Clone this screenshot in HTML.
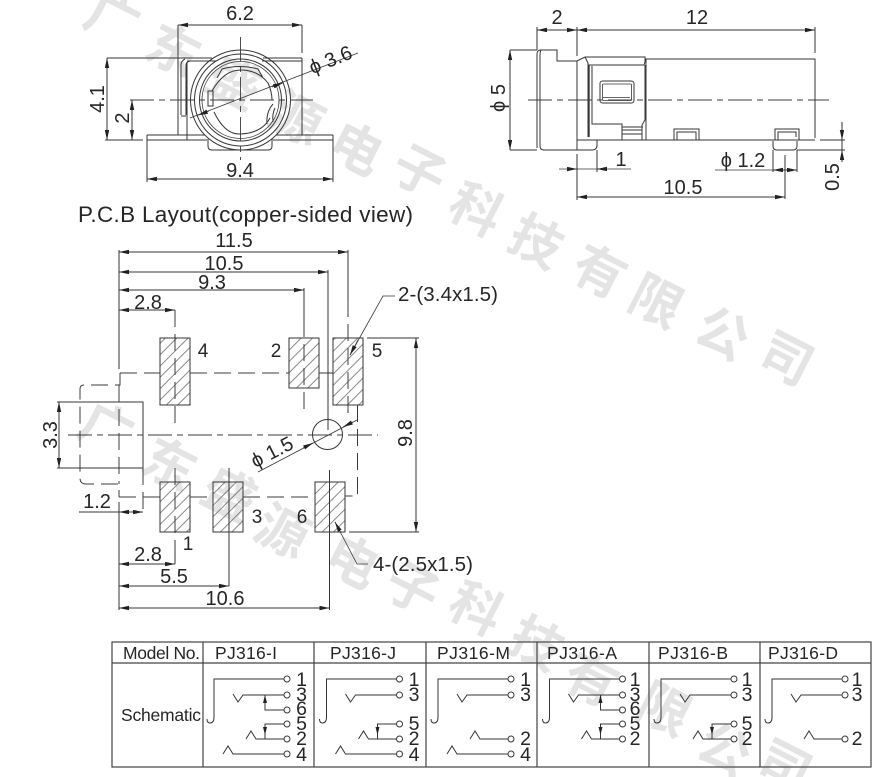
<!DOCTYPE html>
<html><head><meta charset="utf-8"><title>PJ316</title>
<style>
html,body{margin:0;padding:0;background:#fff}
svg{display:block}
text{font-family:"Liberation Sans","Noto Sans CJK SC",sans-serif;fill:#262626}
.w text{font-family:"Liberation Sans","Noto Sans CJK SC",sans-serif;font-size:52px;font-weight:700;fill:#e4e4e4;text-anchor:middle}
.d{font-size:20px;text-anchor:middle}
.n{font-size:19.500px;text-anchor:middle}
.p{font-size:19px;text-anchor:middle}
.h{font-size:17.500px}
.l{fill:none;stroke:#363636;stroke-width:1}
.t{fill:none;stroke:#363636;stroke-width:.8}
.m{fill:none;stroke:#363636;stroke-width:1.4}
.c{fill:none;stroke:#3c3c3c;stroke-width:.9;stroke-dasharray:24 5 6 5}
.dd{fill:none;stroke:#3c3c3c;stroke-width:1;stroke-dasharray:17 7}
.a{marker-start:url(#ar);marker-end:url(#ar)}
.e{marker-end:url(#ar)}
.pad{fill:url(#hatch);stroke:#363636;stroke-width:1}
.tb{fill:none;stroke:#444;stroke-width:1.2}
</style></head>
<body>
<svg width="888" height="777" viewBox="0 0 888 777" xmlns="http://www.w3.org/2000/svg">
<defs>
<marker id="ar" markerUnits="userSpaceOnUse" orient="auto-start-reverse" refX="10" refY="2.2" markerWidth="10" markerHeight="5"><path d="M0 0L10 2.2L0 4.4z" fill="#222"/></marker>
<pattern id="hatch" patternUnits="userSpaceOnUse" width="8" height="8" patternTransform="rotate(-45)"><line x1="0" y1="4" x2="8" y2="4" stroke="#555" stroke-width=".7"/></pattern>
<g id="s1"><path class="l" d="M73 38H3V76Q3 82 -1 82Q-4 82 -4 78"/><circle cx="76" cy="38" r="3" class="l"/></g>
<g id="s3"><path class="l" d="M22 53L27 61L32 54H73"/><circle cx="76" cy="54" r="3" class="l"/></g>
<g id="s6"><path class="l" d="M54 54V69H73"/><path d="M54 54L52 62H56z" fill="#222"/><circle cx="76" cy="69" r="3" class="l"/></g>
<g id="s5"><path class="l" d="M54 98V83H73"/><path d="M54 94L52 86H56z" fill="#222"/><circle cx="76" cy="83" r="3" class="l"/></g>
<g id="s2"><path class="l" d="M35 98L40 90L45 98H73"/><circle cx="76" cy="98" r="3" class="l"/></g>
<g id="s4"><path class="l" d="M12 113L17 105L22 113H73"/><circle cx="76" cy="113" r="3" class="l"/></g>
</defs>
<rect width="888" height="777" fill="#fff"/>

<!-- watermark -->
<g class="w">
<text transform="translate(104,35) rotate(27)">广</text>
<text transform="translate(165,67) rotate(27)">东</text>
<text transform="translate(226,99) rotate(27)">盛</text>
<text transform="translate(288,135) rotate(27)">源</text>
<text transform="translate(348,165) rotate(27)">电</text>
<text transform="translate(411,188) rotate(27)">子</text>
<text transform="translate(468,226) rotate(27)">科</text>
<text transform="translate(528,258) rotate(27)">技</text>
<text transform="translate(591,288) rotate(27)">有</text>
<text transform="translate(648,318) rotate(27)">限</text>
<text transform="translate(714,350) rotate(27)">公</text>
<text transform="translate(778,375) rotate(27)">司</text>
<text transform="translate(98,445) rotate(27)">广</text>
<text transform="translate(161,481) rotate(27)">东</text>
<text transform="translate(221,511) rotate(27)">盛</text>
<text transform="translate(274,548) rotate(27)">源</text>
<text transform="translate(344,578) rotate(27)">电</text>
<text transform="translate(404,605) rotate(27)">子</text>
<text transform="translate(468,625) rotate(27)">科</text>
<text transform="translate(528,660) rotate(27)">技</text>
<text transform="translate(583,696) rotate(27)">有</text>
<text transform="translate(656,726) rotate(27)">限</text>
<text transform="translate(716,766) rotate(27)">公</text>
<text transform="translate(776,783) rotate(27)">司</text>
</g>

<!-- front view -->
<g>
<path class="l" d="M178 25V135M302 25V53M302 58V135"/>
<path class="l" d="M107 58H212M263 58H302M187 61H216M262 61H302"/>
<path class="l" d="M181 115V65Q181 61 185 59M186 115V65Q186 62 190 61M181 116H186"/>
<path class="l" d="M187 62V140"/>
<path class="l" d="M147 135H205M276 135H333M147 135V140M333 135V140M105 140H143M147 140H209M271 140H333"/>
<path class="l" d="M208 141V146Q208 150 212 150H268Q272 150 272 146V141"/>
<circle cx="240.5" cy="100" r="50" class="l"/>
<circle cx="240.5" cy="100" r="46" class="l"/>
<circle cx="240.5" cy="100" r="41" class="l"/>
<circle cx="240.5" cy="100" r="38.5" class="t"/>
<path class="l" d="M217 78L222 69Q240 64 258 69L263 78M214 112Q225 135 240.5 134Q262 133 270 118M212 91Q224 70 240.5 70Q258 70 268 83Q272 92 272 100"/>
<path class="l" d="M273 104Q266 112 267 124M275 108Q272 114 273 122"/>
<rect x="208" y="91" width="5" height="15" class="l"/>
<path class="c" d="M130 100H313"/>
<path class="c" d="M240.5 37V160"/>
<path class="l a" d="M178 25H302"/>
<path class="l a" d="M107 58V140"/>
<path class="l a" d="M132 100V140"/>
<path class="l" d="M147 140V182M333 140V182"/>
<path class="l a" d="M147 179H333"/>
<path class="t" d="M190 118L358 53"/>
<path class="t e" d="M209 111L198 115.3"/>
<path class="t e" d="M272 87L283 82.8"/>
<text class="d" x="240" y="20">6.2</text>
<text class="d" x="240" y="177">9.4</text>
<text class="d" transform="translate(104,99) rotate(-90)">4.1</text>
<text class="d" transform="translate(129,118) rotate(-90)">2</text>
<text class="d" transform="translate(333,66) rotate(-22)">ϕ 3.6</text>
</g>

<!-- side view -->
<g>
<path class="l" d="M537 27V50M577 27V56M815 27V53M510 50H537M510 150H537"/>
<path class="l a" d="M537 30H577"/>
<path class="l a" d="M577 30H815"/>
<path class="l a" d="M510 50V150"/>
<path class="l" d="M537 148V54Q537 50 541 50H557V61H577L585 57M541 50Q540 52 540 55V146Q540 150 544 150H592Q597 150 597 145V140"/>
<path class="l" d="M577 61V150M577 154V200"/>
<path class="l" d="M577 140H815M820 140H845M797 150H845"/>
<path class="l" d="M585 57H645V62L644 65H588V63L585 57M646 62V59H815V138"/>
<path class="m" d="M589 65V137"/>
<path class="l" d="M588 64V137M592 66V124H622V140M622 127H643M622 130H642M622 134H642"/>
<path class="l" d="M645 65V120L642 125V140M646 59V140"/>
<rect x="600" y="81" width="34" height="22" rx="2.5" class="l"/>
<rect x="602.5" y="84" width="29" height="16.5" rx="1" class="t"/>
<path class="t" d="M603 97.5H630"/>
<path class="l" d="M674 140V129H699V140M677 140V132H696V140"/>
<path class="l" d="M775 140V129H799V140M778 140V132H796V137"/>
<path class="l" d="M773 141V146Q773 150 777 150H793Q797 150 797 146V141"/>
<path class="c" d="M528 100H829"/>
<path class="l" d="M597 150V172M773 150V172M797 150V172M785 155V199"/>
<path class="t" d="M559 169H631"/>
<path class="l e" d="M567 169H577"/>
<path class="l e" d="M607 169H597"/>
<path class="t" d="M715 170H773"/>
<path class="l a" d="M773 170H797"/>
<path class="l a" d="M577 197H785"/>
<path class="l" d="M842 122V160"/>
<path class="l e" d="M842 128V140"/>
<path class="l e" d="M842 162V150"/>
<text class="d" x="557" y="24">2</text>
<text class="d" x="697" y="24">12</text>
<text class="d" transform="translate(505,98) rotate(-90)">ϕ 5</text>
<text class="d" x="621" y="166">1</text>
<text class="d" x="743" y="167">ϕ 1.2</text>
<text class="d" x="683" y="194">10.5</text>
<text class="d" transform="translate(839,177) rotate(-90)">0.5</text>
</g>

<!-- title -->
<text x="78" y="222" font-size="22.500" textLength="335" lengthAdjust="spacing">P.C.B Layout(copper-sided view)</text>

<!-- PCB -->
<g>
<rect x="160" y="338" width="30" height="67" class="pad"/>
<rect x="289" y="338" width="30" height="50" class="pad"/>
<rect x="333" y="338" width="30" height="67" class="pad"/>
<rect x="160" y="482" width="30" height="50" class="pad"/>
<rect x="213" y="482" width="30" height="50" class="pad"/>
<rect x="315" y="482" width="30" height="50" class="pad"/>
<path class="l" d="M119 250V369M119 502V610"/>
<path class="l a" d="M119 252H348"/>
<path class="l a" d="M119 272H328"/>
<path class="l a" d="M119 290H304"/>
<path class="l a" d="M119 310H175"/>
<path class="l a" d="M119 564H175"/>
<path class="l a" d="M119 586H229"/>
<path class="l a" d="M119 608H329.500"/>
<path class="l" d="M348 250V300M328 270V430M304 288V320"/>
<path class="dd" d="M348 300V420M304 320V409"/>
<path class="l" d="M329.500 470V610"/>
<path class="l" d="M229 468V586"/>
<path class="l" d="M175 564V545"/>
<path class="dd" d="M175 310V423M175 468V545"/>
<path class="dd" d="M120 373H160M190 373H289"/>
<path class="l" d="M319 373H333"/>
<path class="dd" d="M120 373V385H84Q80 385 80 389V478Q80 484 86 484H119V497"/>
<path class="dd" d="M119 497H160M190 497H213M243 497H315"/>
<path class="dd" d="M119 385V484"/>
<path class="l" d="M57 402H143V468H57"/>
<path class="dd" d="M143 468V514"/>
<path class="dd" d="M357.500 405V496H345"/>
<path class="c" d="M68 435H378"/>
<circle cx="327.5" cy="434.5" r="15" class="l"/>
<path class="l a" d="M59 402V468"/>
<path class="l a" d="M119 512H143"/>
<path class="l" d="M79 512H119"/>
<path class="l" d="M367 338H419M349 532H419"/>
<path class="l a" d="M416 338V532"/>
<path class="t" d="M350 355L383 296H395"/>
<path class="t e" d="M358 340L350 355"/>
<path class="t" d="M335 522L357 564H368"/>
<path class="t e" d="M341 533L335 522"/>
<path class="t" d="M258 472L357 420"/>
<path class="t e" d="M303 448L313 443"/>
<path class="t e" d="M353 422L343 427"/>
<text class="d" x="234" y="247">11.5</text>
<text class="d" x="224" y="270">10.5</text>
<text class="d" x="212" y="289">9.3</text>
<text class="d" x="148" y="309">2.8</text>
<text class="d" x="148" y="561">2.8</text>
<text class="d" x="174" y="583">5.5</text>
<text class="d" x="225" y="605">10.6</text>
<text class="d" x="97" y="508">1.2</text>
<text class="d" transform="translate(57,435) rotate(-90)">3.3</text>
<text class="d" transform="translate(412,433) rotate(-90)">9.8</text>
<text x="398" y="301" font-size="20.500" textLength="100" lengthAdjust="spacing">2-(3.4x1.5)</text>
<text x="373" y="571" font-size="20.500" textLength="100" lengthAdjust="spacing">4-(2.5x1.5)</text>
<text class="d" transform="translate(275,458) rotate(-27)">ϕ 1.5</text>
<text class="p" x="203" y="357">4</text>
<text class="p" x="276" y="357">2</text>
<text class="p" x="377" y="357">5</text>
<text class="p" x="188" y="550">1</text>
<text class="p" x="257" y="523">3</text>
<text class="p" x="302" y="523">6</text>
</g>

<!-- table -->
<g>
<rect x="112" y="642" width="759" height="125" class="tb"/>
<path class="tb" d="M112 663H871M203 642V767M314 642V767M426 642V767M537 642V767M649 642V767M760 642V767"/>
<text class="h" x="123" y="659" textLength="77" lengthAdjust="spacing">Model No.</text>
<text class="h" x="215" y="659" textLength="62" lengthAdjust="spacing">PJ316-I</text>
<text class="h" x="330" y="659" textLength="66" lengthAdjust="spacing">PJ316-J</text>
<text class="h" x="437" y="659" textLength="73" lengthAdjust="spacing">PJ316-M</text>
<text class="h" x="547" y="659" textLength="70" lengthAdjust="spacing">PJ316-A</text>
<text class="h" x="658" y="659" textLength="70" lengthAdjust="spacing">PJ316-B</text>
<text class="h" x="768" y="659" textLength="70" lengthAdjust="spacing">PJ316-D</text>
<text class="h" x="121" y="721" textLength="80" lengthAdjust="spacing">Schematic</text>

<!-- I -->
<g transform="translate(211,641)"><use href="#s1"/><use href="#s3"/><use href="#s6"/><use href="#s5"/><use href="#s2"/><use href="#s4"/></g>
<text class="n" x="301.500" y="686">1</text><text class="n" x="301.500" y="701">3</text><text class="n" x="301.500" y="715">6</text><text class="n" x="301.500" y="730">5</text><text class="n" x="301.500" y="745">2</text><text class="n" x="301.500" y="761">4</text>
<!-- J -->
<g transform="translate(323.500,641)"><use href="#s1"/><use href="#s3"/><use href="#s5"/><use href="#s2"/><use href="#s4"/></g>
<text class="n" x="414" y="686">1</text><text class="n" x="414" y="701">3</text><text class="n" x="414" y="730">5</text><text class="n" x="414" y="745">2</text><text class="n" x="414" y="761">4</text>
<!-- M -->
<g transform="translate(435,641)"><use href="#s1"/><use href="#s3"/><use href="#s2"/><use href="#s4"/></g>
<text class="n" x="525.500" y="686">1</text><text class="n" x="525.500" y="701">3</text><text class="n" x="525.500" y="745">2</text><text class="n" x="525.500" y="761">4</text>
<!-- A -->
<g transform="translate(546.500,641)"><use href="#s1"/><use href="#s3"/><use href="#s6"/><use href="#s5"/><use href="#s2"/></g>
<text class="n" x="635" y="686">1</text><text class="n" x="635" y="701">3</text><text class="n" x="635" y="715">6</text><text class="n" x="635" y="730">5</text><text class="n" x="635" y="745">2</text>
<!-- B -->
<g transform="translate(658,641)"><use href="#s1"/><use href="#s3"/><use href="#s5"/><use href="#s2"/></g>
<text class="n" x="747" y="686">1</text><text class="n" x="747" y="701">3</text><text class="n" x="747" y="730">5</text><text class="n" x="747" y="745">2</text>
<!-- D -->
<g transform="translate(769,641)"><use href="#s1"/><use href="#s3"/><use href="#s2"/></g>
<text class="n" x="857" y="686">1</text><text class="n" x="857" y="701">3</text><text class="n" x="857" y="745">2</text>
</g>
</svg>
</body></html>
